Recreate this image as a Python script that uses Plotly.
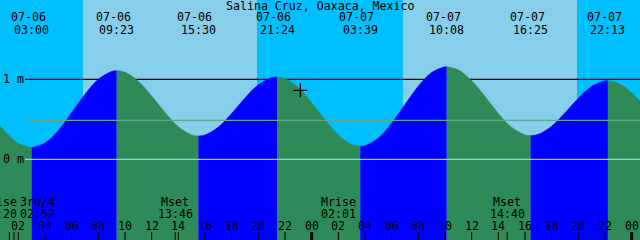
import plotly.graph_objects as go

# ---------------- data ----------------
T0 = 0.625          # window start, hours since 07-06 00:00
SPAN = 48.0

# tide curve readings (hours since 07-06 00:00, metres)
hours = [0.625, 1, 2, 3, 4, 5, 6, 7, 8, 9, 9.383, 10, 11, 12, 13, 14, 15, 15.5,
         16, 17, 18, 19, 20, 21, 21.4, 22, 23, 24, 25, 26, 27, 27.65,
         28, 29, 30, 31, 32, 33, 34, 34.133, 35, 36, 37, 38, 39, 40, 40.417,
         41, 42, 43, 44, 45, 46, 46.217, 47, 48, 48.625]
heights = [0.419, 0.347, 0.200, 0.146, 0.203, 0.361, 0.582, 0.813, 1.001, 1.099, 1.108,
           1.088, 0.975, 0.792, 0.585, 0.407, 0.305, 0.292,
           0.305, 0.403, 0.573, 0.767, 0.931, 1.021, 1.029,
           1.009, 0.897, 0.709, 0.494, 0.304, 0.186, 0.163,
           0.170, 0.266, 0.452, 0.686, 0.915, 1.085, 1.157, 1.158,
           1.118, 0.983, 0.786, 0.574, 0.400, 0.305, 0.296,
           0.313, 0.415, 0.581, 0.764, 0.911, 0.981, 0.983,
           0.952, 0.833, 0.725]

ext_hours = [3.0, 9.383, 15.5, 21.4, 27.65, 34.133, 40.417, 46.217]
ext_dates = ["07-06", "07-06", "07-06", "07-06", "07-07", "07-07", "07-07", "07-07"]
ext_times = ["03:00", "09:23", "15:30", "21:24", "03:39", "10:08", "16:25", "22:13"]

sunrise_hours = [6.85, 30.85]
sunset_hours = [19.9, 43.9]

moon_hours = [1.333, 2.867, 13.767, 26.017, 38.667]
moon_names = ["Mrise", "3rd/4", "Mset", "Mrise", "Mset"]
moon_times = ["01:20", "02:52", "13:46", "02:01", "14:40"]
moon_label_shift = [-9.6, 7.4, 0, 0, 0]
moon_tick_hours = [1.333, 1.675, 13.767, 26.017, 38.667]

level_lines = [1.0, 0.0]
level_labels = ["1 m", "0 m"]
mean_level = 0.4875

now_hour = 23.15
now_height = 0.8625

title = "Salina Cruz, Oaxaca, Mexico"

# ---------------- styling ----------------
W, H = 640, 240
Y0 = -1.0083
Y1 = 1.9917
DAY = "#87CEEB"
NIGHT = "#00BFFF"
RISE = "#0000FF"
FALL = "#2E8B57"
FONT = dict(family="DejaVu Sans Mono", size=11.6, color="black")


def py(px):
    return 1 - px / H


fig = go.Figure()

# segments between extremes
bounds = [hours[0]] + ext_hours + [hours[-1]]
for a, b in zip(bounds[:-1], bounds[1:]):
    xs = [h for h in hours if a - 1e-9 <= h <= b + 1e-9]
    ys = [heights[hours.index(h)] for h in xs]
    color = RISE if ys[-1] > ys[0] else FALL
    fig.add_trace(go.Scatter(x=[xs[0], xs[-1]], y=[Y0 - 0.5, Y0 - 0.5], mode="lines",
                             line=dict(width=0), hoverinfo="skip", showlegend=False))
    fig.add_trace(go.Scatter(x=xs, y=ys, mode="lines", fill="tonexty", fillcolor=color,
                             line=dict(color=color, width=0.6, shape="spline"),
                             hoverinfo="skip", showlegend=False))

# current-time marker
fig.add_trace(go.Scatter(x=[now_hour], y=[now_height], mode="markers",
                         marker=dict(symbol="cross-thin", size=10,
                                     line=dict(color="black", width=1.3)),
                         showlegend=False, hoverinfo="skip"))

shapes = []
# day/night background
edges = [T0] + sorted(sunrise_hours + sunset_hours) + [T0 + SPAN]
for i, (a, b) in enumerate(zip(edges[:-1], edges[1:])):
    shapes.append(dict(type="rect", xref="x", yref="paper", x0=a, x1=b, y0=0, y1=1,
                       fillcolor=NIGHT if i % 2 == 0 else DAY, line=dict(width=0),
                       layer="below"))

x_line_start = T0 + 25 / (W / SPAN)
# 1 m line behind the water
shapes.append(dict(type="line", xref="x", yref="y", x0=x_line_start, x1=T0 + SPAN,
                   y0=level_lines[0], y1=level_lines[0],
                   line=dict(color="black", width=1.2), layer="below"))
# datum and mean lines above
shapes.append(dict(type="line", xref="x", yref="y", x0=x_line_start, x1=T0 + SPAN,
                   y0=level_lines[1], y1=level_lines[1],
                   line=dict(color="#8FD3EE", width=1.2), layer="above"))
shapes.append(dict(type="line", xref="x", yref="y", x0=x_line_start, x1=T0 + SPAN,
                   y0=mean_level, y1=mean_level,
                   line=dict(color="#62A88E", width=1.2), layer="above"))

annotations = []
# hour ticks and labels
for hh in range(2, 49, 2):
    midnight = hh % 24 == 0
    shapes.append(dict(type="line", xref="x", yref="paper", x0=hh, x1=hh,
                       y0=0, y1=py(232), line=dict(color="black", width=3 if midnight else 1),
                       layer="above"))
    annotations.append(dict(x=hh, y=py(226.2), xref="x", yref="paper", text=f"{hh % 24:02d}",
                            showarrow=False, font=FONT, xanchor="center", yanchor="middle"))

# moon event ticks
for mh in moon_tick_hours:
    shapes.append(dict(type="line", xref="x", yref="paper", x0=mh, x1=mh,
                       y0=0, y1=py(232), line=dict(color="black", width=1), layer="above"))

# moon labels
for mh, nm, tm, sh in zip(moon_hours, moon_names, moon_times, moon_label_shift):
    annotations.append(dict(x=mh, y=py(201.7), xref="x", yref="paper", text=nm, xshift=sh,
                            showarrow=False, font=FONT, xanchor="center", yanchor="middle"))
    annotations.append(dict(x=mh, y=py(213.8), xref="x", yref="paper", text=tm, xshift=sh,
                            showarrow=False, font=FONT, xanchor="center", yanchor="middle"))

# extreme labels at top
for eh, d, t in zip(ext_hours, ext_dates, ext_times):
    annotations.append(dict(x=eh, y=py(17.5), xref="x", yref="paper", text=d, xshift=-3.5,
                            showarrow=False, font=FONT, xanchor="center", yanchor="middle"))
    annotations.append(dict(x=eh, y=py(29.5), xref="x", yref="paper", text=t,
                            showarrow=False, font=FONT, xanchor="center", yanchor="middle"))

# level labels
for lv, lb in zip(level_lines, level_labels):
    annotations.append(dict(x=0, y=lv, xref="paper", yref="y", text=lb, xshift=1,
                            showarrow=False, font=FONT, xanchor="left", yanchor="middle"))

# title
annotations.append(dict(x=0.5, y=py(5.5), xref="paper", yref="paper", text=title,
                        showarrow=False, font=FONT, xanchor="center", yanchor="middle"))

fig.update_layout(
    width=W, height=H, margin=dict(l=0, r=0, t=0, b=0),
    paper_bgcolor=NIGHT, plot_bgcolor=NIGHT,
    xaxis=dict(range=[T0, T0 + SPAN], visible=False, fixedrange=True),
    yaxis=dict(range=[Y0, Y1], visible=False, fixedrange=True),
    shapes=shapes, annotations=annotations, showlegend=False,
)

fig.write_html("out.html", config={"displayModeBar": False})
